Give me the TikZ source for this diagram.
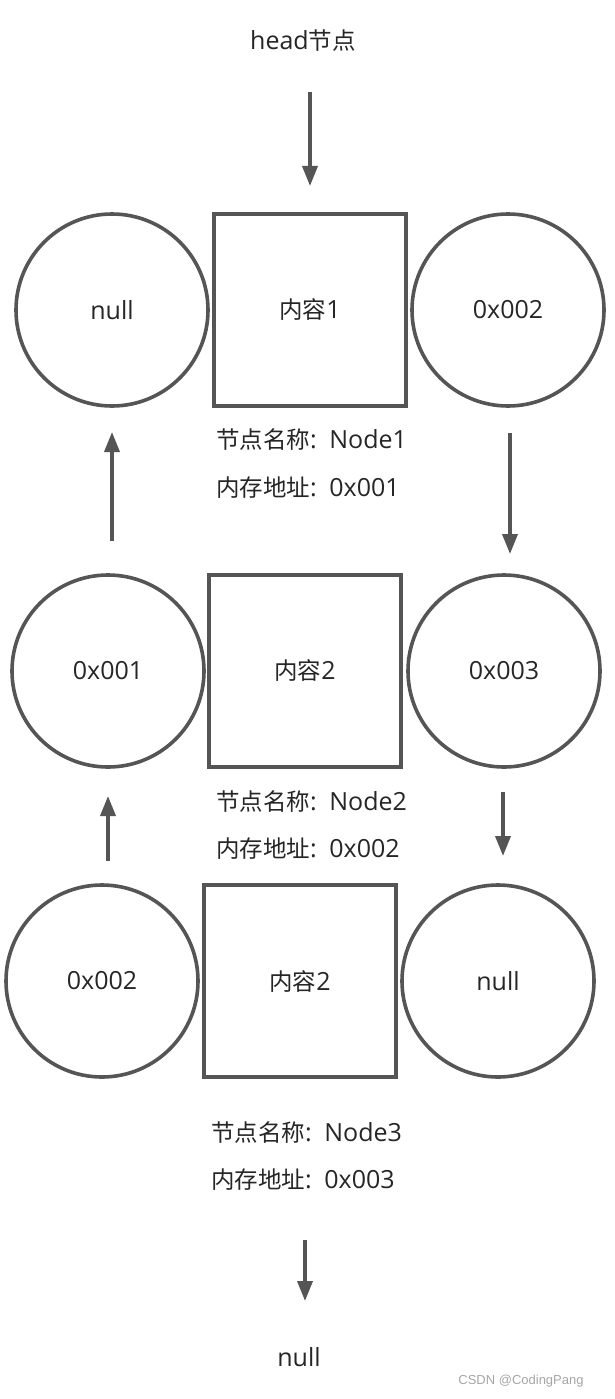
\documentclass[tikz,border=0pt]{standalone}
\usepackage{fontspec}
\setmainfont{Open Sans}
\newfontfamily\cj[Scale=0.94]{Noto Sans CJK SC}
\usetikzlibrary{arrows.meta}
\definecolor{linec}{HTML}{555555}
\definecolor{textc}{HTML}{262626}
\begin{document}
\begin{tikzpicture}[x=1pt,y=-1pt,
  font=\fontsize{25}{29}\selectfont,
  txt/.style={text=textc, inner sep=0pt},
  circ/.style={draw=linec, line width=3.6pt, circle, minimum size=192pt, inner sep=0pt, text=textc},
  box/.style={draw=linec, line width=3.6pt, rectangle, minimum size=192pt, inner sep=0pt, text=textc},
  lab/.style={text=textc, inner sep=0pt, anchor=west},
  arr/.style={draw=linec, line width=3.6pt, -{Triangle[length=20pt,width=15pt]}}]
\useasboundingbox (0,0) rectangle (614,1399);
\fill[white] (0,0) rectangle (614,1399);
% head
\node[txt] (head) at (303,41) {head{\cj 节点}};
\coordinate (h1) at (310,92);
\coordinate (h2) at (310,186);
\draw[arr] (h1) -- (h2);
% row 1
\node[circ] (p1) at (112,310) {null};
\node[box] (c1) at (310,310) {{\cj 内容}1};
\node[circ] (n1) at (508,310) {0x002};
\node[lab] (l1a) at (216,440) {{\cj 节点名称}:\hspace{0.5em}Node1};
\node[lab] (l1b) at (216,488) {{\cj 内存地址}:\hspace{0.5em}0x001};
% row 2
\node[circ] (p2) at (108,671) {0x001};
\node[box] (c2) at (305,671) {{\cj 内容}2};
\node[circ] (n2) at (504,671) {0x003};
\node[lab] (l2a) at (216,802) {{\cj 节点名称}:\hspace{0.5em}Node2};
\node[lab] (l2b) at (216,849) {{\cj 内存地址}:\hspace{0.5em}0x002};
% row 3
\node[circ] (p3) at (102,981) {0x002};
\node[box] (c3) at (300,981) {{\cj 内容}2};
\node[circ] (n3) at (498,981) {null};
\node[lab] (l3a) at (211,1133) {{\cj 节点名称}:\hspace{0.5em}Node3};
\node[lab] (l3b) at (211,1180) {{\cj 内存地址}:\hspace{0.5em}0x003};
\node[txt] (tail) at (299,1357) {null};
% arrows
\coordinate (a1s) at (112,541); \coordinate (a1e) at (112,432);
\draw[arr] (a1s) -- (a1e);
\coordinate (a2s) at (510,433); \coordinate (a2e) at (510,554);
\draw[arr] (a2s) -- (a2e);
\coordinate (a3s) at (108,861); \coordinate (a3e) at (108,796);
\draw[arr] (a3s) -- (a3e);
\coordinate (a4s) at (503,792); \coordinate (a4e) at (503,856);
\draw[arr] (a4s) -- (a4e);
\coordinate (a5s) at (305,1240); \coordinate (a5e) at (305,1301);
\draw[arr] (a5s) -- (a5e);
% watermark
\node[inner sep=0pt, text=gray!70, font=\fontspec{Liberation Sans}\fontsize{13}{15}\selectfont] (wm) at (521,1381) {CSDN @CodingPang};
\end{tikzpicture}
\end{document}
